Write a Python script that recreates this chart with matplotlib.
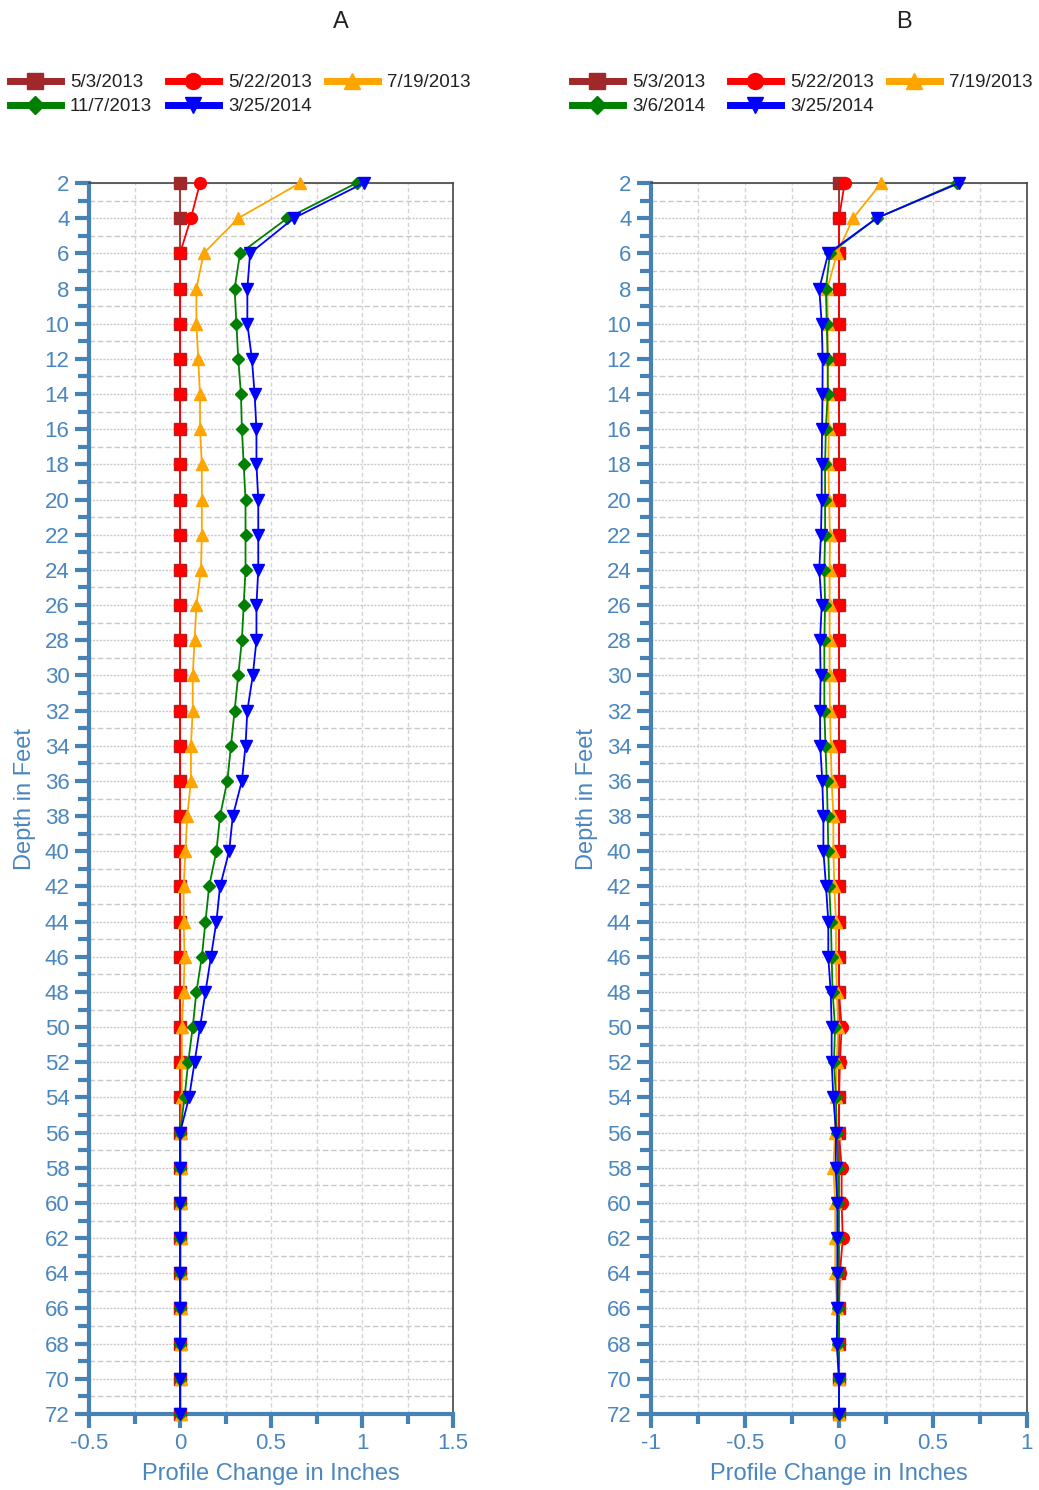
import matplotlib.pyplot as plt
from matplotlib.lines import Line2D
from matplotlib.ticker import MultipleLocator, FuncFormatter

plt.rcParams['font.family'] = ['Liberation Sans', 'DejaVu Sans']

# === Data ===
depth = [2, 4, 6, 8, 10, 12, 14, 16, 18, 20, 22, 24, 26, 28, 30, 32, 34, 36,
         38, 40, 42, 44, 46, 48, 50, 52, 54, 56, 58, 60, 62, 64, 66, 68, 70, 72]

labels_a = ["5/3/2013", "5/22/2013", "7/19/2013", "11/7/2013", "3/25/2014"]
labels_b = ["5/3/2013", "5/22/2013", "7/19/2013", "3/6/2014", "3/25/2014"]

a_0503 = [0, 0, 0, 0, 0, 0, 0, 0, 0, 0, 0, 0, 0, 0, 0, 0, 0, 0,
          0, 0, 0, 0, 0, 0, 0, 0, 0, 0, 0, 0, 0, 0, 0, 0, 0, 0]
a_0522 = [0.11, 0.06, 0, 0, 0, 0, 0, 0, 0, 0, 0, 0, 0, 0, 0, 0, 0, 0,
          0, 0, 0, 0, 0, 0, 0, 0, 0, 0, 0, 0, 0, 0, 0, 0, 0, 0]
a_0719 = [0.66, 0.32, 0.13, 0.09, 0.09, 0.10, 0.11, 0.11, 0.12, 0.12, 0.12, 0.115,
          0.09, 0.08, 0.07, 0.07, 0.06, 0.06, 0.04, 0.03, 0.02, 0.02, 0.025, 0.02,
          0.01, 0.01, 0.01, 0.005, 0.005, 0.005, 0.005, 0.005, 0.005, 0.005, 0.005, 0.005]
a_1107 = [0.97, 0.59, 0.33, 0.30, 0.31, 0.32, 0.335, 0.34, 0.35, 0.36, 0.36, 0.36,
          0.35, 0.34, 0.32, 0.30, 0.28, 0.26, 0.22, 0.20, 0.16, 0.14, 0.12, 0.09,
          0.07, 0.045, 0.025, 0, 0, 0, 0, 0, 0, 0, 0, 0]
a_0325 = [1.01, 0.625, 0.385, 0.37, 0.37, 0.395, 0.41, 0.42, 0.42, 0.43, 0.43, 0.43,
          0.42, 0.42, 0.40, 0.37, 0.36, 0.34, 0.29, 0.27, 0.22, 0.20, 0.17, 0.14,
          0.11, 0.08, 0.05, 0, 0, 0, 0, 0, 0, 0, 0, 0]

b_0503 = [0, 0, 0, 0, 0, 0, 0, 0, 0, 0, 0, 0, 0, 0, 0, 0, 0, 0,
          0, 0, 0, 0, 0, 0, 0, 0, 0, 0, 0, 0, 0, 0, 0, 0, 0, 0]
b_0522 = [0.03, 0, 0, 0, 0, 0, 0, 0, 0, 0, 0, 0, 0, 0, 0, 0, 0, 0,
          0, 0, 0, 0, 0, 0, 0.014, 0.005, 0, 0, 0.014, 0.014, 0.02, 0.005, 0, 0, 0, 0]
b_0719 = [0.225, 0.075, -0.01, -0.062, -0.06, -0.06, -0.058, -0.055, -0.056, -0.053,
          -0.048, -0.05, -0.05, -0.05, -0.05, -0.048, -0.044, -0.039, -0.03, -0.03,
          -0.025, -0.016, -0.016, -0.012, -0.004, -0.012, -0.018, -0.021, -0.03, -0.02,
          -0.02, -0.02, -0.01, -0.01, 0, 0]
b_0306 = [0.63, 0.20, -0.048, -0.07, -0.065, -0.06, -0.06, -0.07, -0.074, -0.074,
          -0.074, -0.078, -0.074, -0.078, -0.078, -0.078, -0.072, -0.065, -0.06, -0.057,
          -0.052, -0.043, -0.039, -0.034, -0.021, -0.027, -0.016, -0.012, -0.005, -0.005,
          -0.005, -0.005, -0.005, -0.005, 0, 0]
b_0325 = [0.64, 0.20, -0.057, -0.105, -0.092, -0.087, -0.088, -0.09, -0.092, -0.092,
          -0.096, -0.105, -0.092, -0.101, -0.098, -0.101, -0.10, -0.089, -0.083, -0.083,
          -0.069, -0.057, -0.057, -0.044, -0.039, -0.039, -0.030, -0.016, -0.018, -0.009,
          -0.009, -0.009, -0.009, -0.012, 0, 0]

# === Styles ===
colors = ['#a0282a', '#ff0000', '#ffa500', '#008000', '#0000ff']
markers = ['s', 'o', '^', 'D', 'v']
msizes = [8, 8.5, 8.5, 6, 9]
axis_blue = '#4682b4'
text_blue = '#4a86c0'

W, H = 1039, 1490
fig = plt.figure(figsize=(W / 100, H / 100), dpi=100)


def make_panel(left_px, right_px, series, labels, xlim, title, title_x):
    width_px = right_px - left_px
    ax = fig.add_axes([left_px / W, (H - 1414) / H, width_px / W, 1231 / H])
    for vals, c, m, ms in zip(series, colors, markers, msizes):
        ax.plot(vals, depth, color=c, marker=m, markersize=ms, linewidth=1.3,
                markeredgecolor=c, clip_on=False, zorder=3)

    ax.set_xlim(*xlim)
    ax.set_ylim(72, 2)
    ax.xaxis.set_major_locator(MultipleLocator(0.5))
    ax.xaxis.set_minor_locator(MultipleLocator(0.25))
    ax.yaxis.set_major_locator(MultipleLocator(2))
    ax.yaxis.set_minor_locator(MultipleLocator(1))
    ax.xaxis.set_major_formatter(FuncFormatter(lambda v, p: f'{v:g}'))

    ax.grid(which='both', axis='x', color='#d4d4d4', linestyle=(0, (3, 2)), linewidth=1)
    ax.grid(which='major', axis='y', color='#c8c8c8', linestyle=(0, (1.5, 1)), linewidth=1)
    ax.grid(which='minor', axis='y', color='#c8c8c8', linestyle=(0, (4, 2)), linewidth=1)
    ax.set_axisbelow(True)

    for s in ['left', 'bottom']:
        ax.spines[s].set_color(axis_blue)
        ax.spines[s].set_linewidth(3)
    for s in ['top', 'right']:
        ax.spines[s].set_color('#444444')
        ax.spines[s].set_linewidth(1.2)

    ax.tick_params(which='major', direction='out', length=10, width=3, color=axis_blue,
                   labelsize=16, labelcolor=text_blue, pad=4)
    ax.tick_params(which='minor', direction='out', length=7, width=3, color=axis_blue)
    ax.tick_params(axis='y', which='minor', length=8)

    ax.set_xlabel('Profile Change in Inches', fontsize=17, color=text_blue)
    ax.set_ylabel('Depth in Feet', fontsize=17, color=text_blue)
    ax.xaxis.set_label_coords(0.5, -0.040)
    ax.yaxis.set_label_coords(-53 / width_px, 0.5)

    fig.text(title_x / W, 1 - 22 / H, title, fontsize=17, ha='center', va='center', color='#222222')

    # legend: one legend per column so column positions are fixed
    handles = [Line2D([], [], color=c, marker=m, markersize=ms + 3, linewidth=5)
               for c, m, ms in zip(colors, markers, msizes)]
    columns = [[0, 3], [1, 4], [2]]
    col_offsets = [-79, 79, 238]
    for k, (idx, off) in enumerate(zip(columns, col_offsets)):
        leg = ax.legend([handles[i] for i in idx], [labels[i] for i in idx],
                        loc='upper left', bbox_to_anchor=((left_px + off) / W, 1 - 74 / H),
                        bbox_transform=fig.transFigure, frameon=False, borderaxespad=0,
                        borderpad=0, handlelength=2.7, handletextpad=0.5,
                        labelspacing=0.38, fontsize=13.5, labelcolor='#222222')
        if k < len(columns) - 1:
            ax.add_artist(leg)
    return ax


make_panel(89, 453, [a_0503, a_0522, a_0719, a_1107, a_0325], labels_a, (-0.5, 1.5), 'A', 341)
make_panel(651, 1027, [b_0503, b_0522, b_0719, b_0306, b_0325], labels_b, (-1, 1), 'B', 904)

plt.savefig('out.png', dpi=100)
